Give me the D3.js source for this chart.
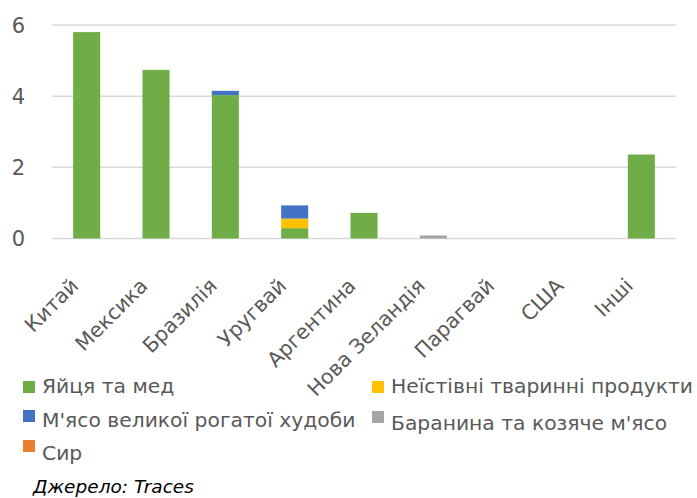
<!DOCTYPE html>
<html>
<head>
<meta charset="utf-8">
<script src="https://cdn.jsdelivr.net/npm/d3@7"></script>
<style>
  body { margin: 0; background: #fff; }
  text { font-family: "DejaVu Sans", Verdana, sans-serif; fill: #595959; }
</style>
</head>
<body>
<div id="chart"></div>
<script>
// categories and series
const countries = ['Китай', 'Мексика', 'Бразилія', 'Уругвай', 'Аргентина', 'Нова Зеландія', 'Парагвай', 'США', 'Інші'];
const seriesNames = ['Яйця та мед', 'Неїстівні тваринні продукти', "М'ясо великої рогатої худоби", "Баранина та козяче м'ясо", 'Сир'];
const seriesColors = ['#70AD47', '#FFC000', '#4472C4', '#A5A5A5', '#ED7D31'];
const eggsHoney = [5.8, 4.74, 4.03, 0.29, 0.72, 0, 0, 0, 2.36];
const inedible = [0, 0, 0, 0.27, 0, 0, 0, 0, 0];
const beef = [0, 0, 0.12, 0.37, 0, 0, 0, 0, 0];
const lamb = [0, 0, 0, 0, 0, 0.085, 0, 0, 0];
const cheese = [0, 0, 0, 0, 0, 0, 0, 0, 0];
const yTicks = [0, 2, 4, 6];

const seriesValues = [eggsHoney, inedible, beef, lamb, cheese];

const width = 697, height = 498;
const margin = {top: 25, left: 52, right: 21, bottom: 259.5};

const svg = d3.select('#chart').append('svg')
    .attr('width', width)
    .attr('height', height);

const x = d3.scaleBand()
    .domain(countries)
    .range([margin.left, width - margin.right])
    .paddingInner(0.61)
    .paddingOuter(0.305);

const y = d3.scaleLinear()
    .domain([0, 6])
    .range([height - margin.bottom, margin.top]);

// gridlines
svg.append('g')
  .selectAll('line')
  .data(yTicks)
  .join('line')
    .attr('x1', margin.left)
    .attr('x2', width - margin.right)
    .attr('y1', d => y(d))
    .attr('y2', d => y(d))
    .attr('stroke', '#D9D9D9')
    .attr('stroke-width', 1.5);

// y labels
svg.append('g')
  .selectAll('text')
  .data(yTicks)
  .join('text')
    .attr('x', 25)
    .attr('y', d => y(d))
    .attr('dy', '0.36em')
    .attr('text-anchor', 'end')
    .style('font-size', '21px')
    .text(d => d);

// stacked bars
const table = countries.map((c, i) => {
  const row = {country: c};
  seriesNames.forEach((s, j) => row[s] = seriesValues[j][i]);
  return row;
});
const stack = d3.stack().keys(seriesNames)(table);

svg.append('g')
  .selectAll('g')
  .data(stack)
  .join('g')
    .attr('fill', (d, i) => seriesColors[i])
  .selectAll('rect')
  .data(d => d.filter(p => p[1] - p[0] > 0))
  .join('rect')
    .attr('x', d => x(d.data.country))
    .attr('width', x.bandwidth())
    .attr('y', d => y(d[1]))
    .attr('height', d => y(d[0]) - y(d[1]));

// category labels
svg.append('g')
  .selectAll('text')
  .data(countries)
  .join('text')
    .attr('transform', d => `translate(${x(d) + x.bandwidth() / 2 - 7}, 287) rotate(-45)`)
    .attr('text-anchor', 'end')
    .style('font-size', '20.5px')
    .text(d => d);

// legend
const legendItems = [
  {i: 0, sx: 23, sy: 381, tx: 42, ty: 393},
  {i: 1, sx: 372, sy: 381, tx: 391, ty: 393},
  {i: 2, sx: 23, sy: 410, tx: 42, ty: 427},
  {i: 3, sx: 372, sy: 411, tx: 391, ty: 430},
  {i: 4, sx: 23, sy: 440, tx: 42, ty: 460}
];
const legend = svg.append('g');
legend.selectAll('rect')
  .data(legendItems)
  .join('rect')
    .attr('x', d => d.sx)
    .attr('y', d => d.sy)
    .attr('width', 12)
    .attr('height', 12)
    .attr('fill', d => seriesColors[d.i]);
legend.selectAll('text')
  .data(legendItems)
  .join('text')
    .attr('x', d => d.tx)
    .attr('y', d => d.ty)
    .style('font-size', '20.3px')
    .text(d => seriesNames[d.i]);

svg.append('text')
    .attr('x', 33)
    .attr('y', 493)
    .style('font-size', '18.5px')
    .style('font-style', 'italic')
    .style('fill', '#000')
    .text('Джерело: Traces');
</script>
</body>
</html>
